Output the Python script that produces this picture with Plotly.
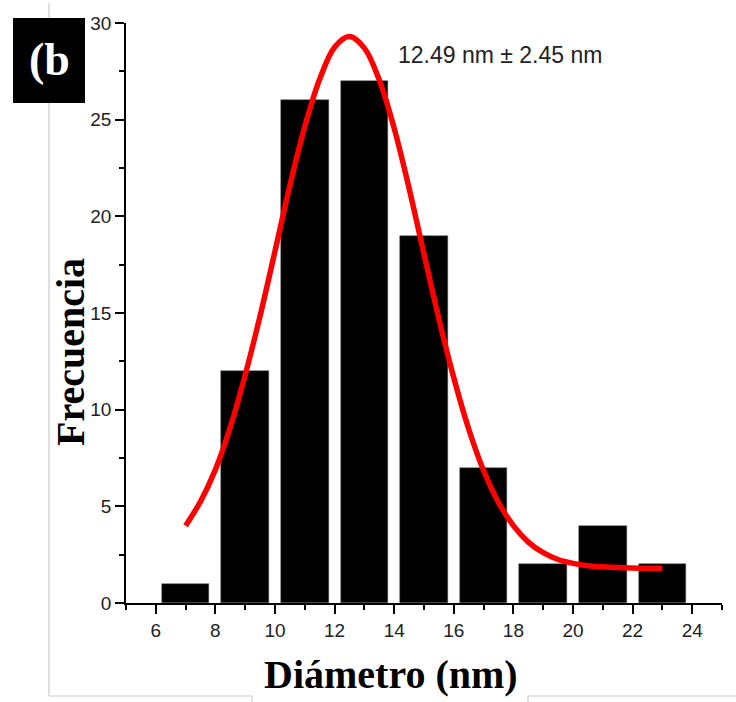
import plotly.graph_objects as go

# Histogram data
bin_centers = [7, 9, 11, 13, 15, 17, 19, 21, 23]
counts = [1, 12, 26, 27, 19, 7, 2, 4, 2]

# Fitted curve, points
fit_x = [7, 7.5, 8, 8.5, 9, 9.5, 10, 10.5, 11, 11.5, 12, 12.5, 13, 13.5, 14, 14.5,
         15, 15.5, 16, 16.5, 17, 17.5, 18, 18.5, 19, 19.5, 20, 20.5, 21, 21.5, 22, 22.5, 23]
fit_y = [4.0, 5.25, 6.9, 9.1, 11.8, 14.85, 18.2, 21.6, 24.65, 27.1, 28.75, 29.3, 28.7,
         27.05, 24.55, 21.45, 18.05, 14.7, 11.65, 9.0, 6.85, 5.2, 4.0, 3.15, 2.6, 2.25,
         2.05, 1.93, 1.87, 1.83, 1.81, 1.8, 1.8]

x_ticks = [6, 8, 10, 12, 14, 16, 18, 20, 22, 24]
y_ticks = [0, 5, 10, 15, 20, 25, 30]

fig = go.Figure()
fig.add_trace(go.Bar(x=bin_centers, y=counts, width=1.6,
                     marker=dict(color="black", line=dict(color="#555", width=0.5))))
fig.add_trace(go.Scatter(x=fit_x, y=fit_y, mode="lines",
                         line=dict(color="#ff0000", width=5.5, shape="spline")))

L, R, T, B = 126, 14, 23, 99
W, H = 736, 702
pw = W - L - R
ph = H - T - B

def px(x):
    return (x - L) / pw

def py(y):
    return (H - B - y) / ph

fig.update_layout(
    width=W, height=H,
    margin=dict(l=L, r=R, t=T, b=B),
    paper_bgcolor="white", plot_bgcolor="white",
    showlegend=False,
    bargap=0,
    xaxis=dict(range=[5, 25], tickmode="array", tickvals=x_ticks,
               ticks="outside", ticklen=9, tickwidth=1.5, tickcolor="black",
               showline=True, linecolor="black", linewidth=1.5, showgrid=False, zeroline=False,
               tickfont=dict(family="Liberation Sans, Arial", size=19, color="#222"),
               minor=dict(tickmode="linear", tick0=5, dtick=1, ticks="outside",
                          ticklen=5, tickwidth=1.5, tickcolor="black")),
    yaxis=dict(range=[0, 30], tickmode="array", tickvals=y_ticks,
               ticks="outside", ticklen=9, tickwidth=1.5, tickcolor="black",
               showline=True, linecolor="black", linewidth=1.5, showgrid=False, zeroline=False,
               tickfont=dict(family="Liberation Sans, Arial", size=19, color="#222"),
               minor=dict(tickmode="linear", tick0=0, dtick=2.5, ticks="outside",
                          ticklen=5, tickwidth=1.5, tickcolor="black")),
    shapes=[
        dict(type="line", xref="paper", yref="paper", x0=px(49), x1=px(49), y0=py(3), y1=py(696),
             line=dict(color="#cccccc", width=1.2)),
        dict(type="line", xref="paper", yref="paper", x0=px(49), x1=px(252), y0=py(696), y1=py(696),
             line=dict(color="#cccccc", width=1.2)),
        dict(type="line", xref="paper", yref="paper", x0=px(252), x1=px(252), y0=py(696), y1=py(702),
             line=dict(color="#cccccc", width=1.2)),
        dict(type="line", xref="paper", yref="paper", x0=px(528), x1=px(528), y0=py(696), y1=py(702),
             line=dict(color="#cccccc", width=1.2)),
        dict(type="line", xref="paper", yref="paper", x0=px(528), x1=px(736), y0=py(696), y1=py(696),
             line=dict(color="#cccccc", width=1.2)),
        dict(type="rect", xref="paper", yref="paper", x0=px(13), x1=px(85), y0=py(18), y1=py(103),
             fillcolor="black", line=dict(width=0)),
    ],
    annotations=[
        dict(text="<b>(b</b>", xref="paper", yref="paper", x=px(49), y=py(60),
             xanchor="center", yanchor="middle", showarrow=False,
             font=dict(family="Liberation Serif, Times New Roman", size=46, color="white")),
        dict(text="12.49 nm ± 2.45 nm", xref="paper", yref="paper", x=px(500), y=py(55),
             xanchor="center", yanchor="middle", showarrow=False,
             font=dict(family="Liberation Sans, Arial", size=23, color="#222")),
        dict(text="<b>Diámetro (nm)</b>", xref="paper", yref="paper", x=px(391), y=py(674),
             xanchor="center", yanchor="middle", showarrow=False,
             font=dict(family="Liberation Serif, Times New Roman", size=40, color="black")),
        dict(text="<b>Frecuencia</b>", xref="paper", yref="paper", x=px(70), y=py(352),
             xanchor="center", yanchor="middle", showarrow=False, textangle=-90,
             font=dict(family="Liberation Serif, Times New Roman", size=40, color="black")),
    ],
)

fig.write_html("out.html", config={"displayModeBar": False},
               post_script="document.body.style.margin='0';document.body.style.overflow='hidden';")
